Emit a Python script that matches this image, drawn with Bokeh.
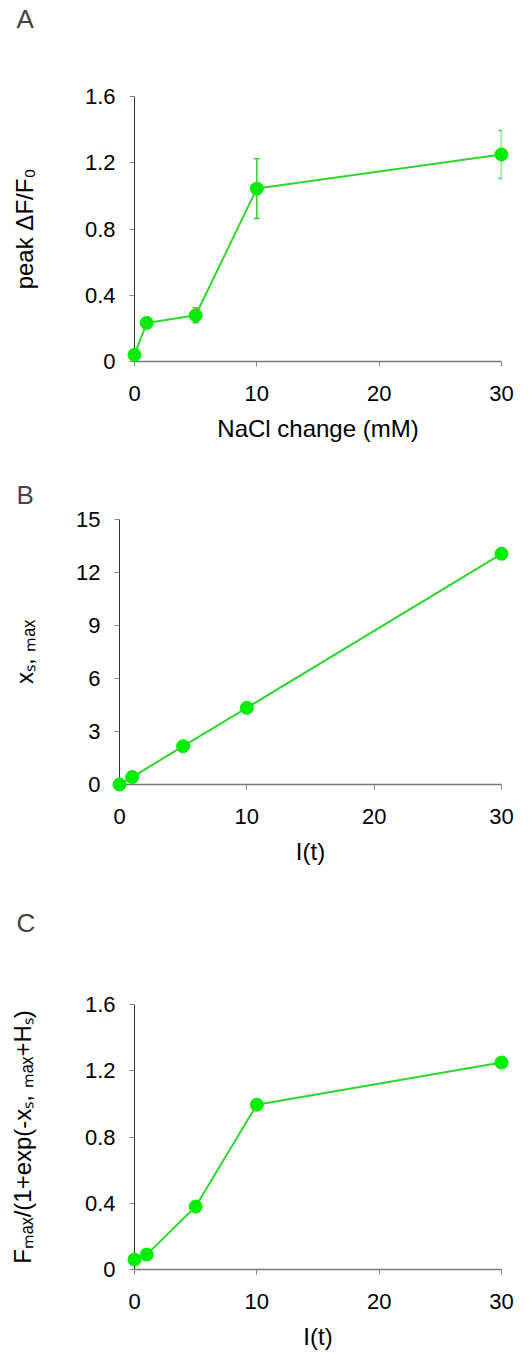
from bokeh.plotting import figure
from bokeh.models import ColumnDataSource, FixedTicker, Whisker, TeeHead, Range1d, Title
from bokeh.embed import file_html
from bokeh.resources import INLINE

# ---- data ----
nacl = [0, 1, 5, 10, 30]
peak = [0.04, 0.233, 0.279, 1.044, 1.25]
peak_err = [0.01, 0.02, 0.045, 0.18, 0.145]

it_b = [0, 1, 5, 10, 30]
xs_max = [0.0, 0.42, 2.17, 4.34, 13.06]

it_c = [0, 1, 5, 10, 30]
fsig = [0.06, 0.09, 0.38, 0.995, 1.25]

x_ticks = [0, 10, 20, 30]
y_ticks_a = [0, 0.4, 0.8, 1.2, 1.6]
y_labels_a = ["0", "0.4", "0.8", "1.2", "1.6"]
y_ticks_b = [0, 3, 6, 9, 12, 15]
y_labels_b = ["0", "3", "6", "9", "12", "15"]

FONT = "Liberation Sans"
LINE = "#30d630"
DOT = "#00ee00"


def make(height, ymax, left, right, top, bottom, yticks, ylabels,
         xlabel, ylabel, ylab_standoff, letter, gap):
    p = figure(width=530, height=height, x_range=Range1d(0, 30), y_range=Range1d(0, ymax),
               min_border_left=left, min_border_right=right,
               min_border_top=top, min_border_bottom=bottom,
               output_backend="svg", toolbar_location=None, title=letter)
    p.outline_line_color = None
    p.grid.visible = False
    p.background_fill_color = "white"
    p.border_fill_color = "white"

    # spacer between the panel letter and the plot frame
    p.add_layout(Title(text=" ", text_font_size="1px", standoff=gap), "above")

    p.title.text_font = FONT
    p.title.text_font_size = "26px"
    p.title.text_font_style = "normal"
    p.title.align = "left"
    p.title.offset = 16 - left
    p.title.standoff = 0

    p.xaxis.ticker = FixedTicker(ticks=x_ticks)
    p.yaxis.ticker = FixedTicker(ticks=yticks)
    p.xaxis.major_label_overrides = {t: str(t) for t in x_ticks}
    p.yaxis.major_label_overrides = {t: l for t, l in zip(yticks, ylabels)}

    for ax in (p.xaxis, p.yaxis):
        ax.minor_tick_line_color = None
        ax.major_tick_in = 0
        ax.major_tick_out = 5
        ax.major_tick_line_color = "#888888"
        ax.major_label_text_font = FONT
        ax.major_label_text_font_size = "22px"
        ax.major_label_text_color = "black"
        ax.axis_label_text_font = FONT
        ax.axis_label_text_font_size = "24px"
        ax.axis_label_text_font_style = "normal"
        ax.axis_label_text_color = "black"
    p.xaxis.major_label_standoff = 19
    p.yaxis.major_label_standoff = 14
    p.xaxis.axis_line_color = "#777777"
    p.xaxis.axis_line_width = 1.5
    p.yaxis.axis_line_color = "#333333"
    p.yaxis.axis_line_width = 1
    p.xaxis.axis_label = xlabel
    p.yaxis.axis_label = ylabel
    p.xaxis.axis_label_standoff = 11
    p.yaxis.axis_label_standoff = ylab_standoff
    return p


# Panel A
pA = make(475, 1.6, 134, 29, 96, 114, y_ticks_a, y_labels_a,
          "NaCl change (mM)", "peak ΔF/F₀", 44, "A", 60)
srcA = ColumnDataSource(dict(x=nacl, y=peak,
                             lo=[v - e for v, e in zip(peak, peak_err)],
                             hi=[v + e for v, e in zip(peak, peak_err)]))
pA.line("x", "y", source=srcA, line_color=LINE, line_width=2, level="overlay")
pA.add_layout(Whisker(source=srcA, base="x", upper="hi", lower="lo", line_color=LINE, line_width=1.5,
                      level="overlay",
                      upper_head=TeeHead(size=6, line_color=LINE, line_width=1.5),
                      lower_head=TeeHead(size=6, line_color=LINE, line_width=1.5)))
pA.scatter("x", "y", source=srcA, size=13, fill_color=DOT, line_color=DOT, level="overlay")

# Panel B
pB = make(420, 15, 119, 29, 44, 111, y_ticks_b, y_labels_b,
          "I(t)", "xₛ, ₘₐₓ", 35, "B", 7)
srcB = ColumnDataSource(dict(x=it_b, y=xs_max))
pB.line("x", "y", source=srcB, line_color=LINE, line_width=2, level="overlay")
pB.scatter("x", "y", source=srcB, size=13, fill_color=DOT, line_color=DOT, level="overlay")

# Panel C
pC = make(463, 1.6, 134, 29, 109, 89, y_ticks_a, y_labels_a,
          "I(t)", "Fₘₐₓ/(1+exp(-xₛ, ₘₐₓ+Hₛ)", 46, "C", 64)
srcC = ColumnDataSource(dict(x=it_c, y=fsig))
pC.line("x", "y", source=srcC, line_color=LINE, line_width=2, level="overlay")
pC.scatter("x", "y", source=srcC, size=13, fill_color=DOT, line_color=DOT, level="overlay")

open("out.html", "w").write(file_html([pA, pB, pC], INLINE))
